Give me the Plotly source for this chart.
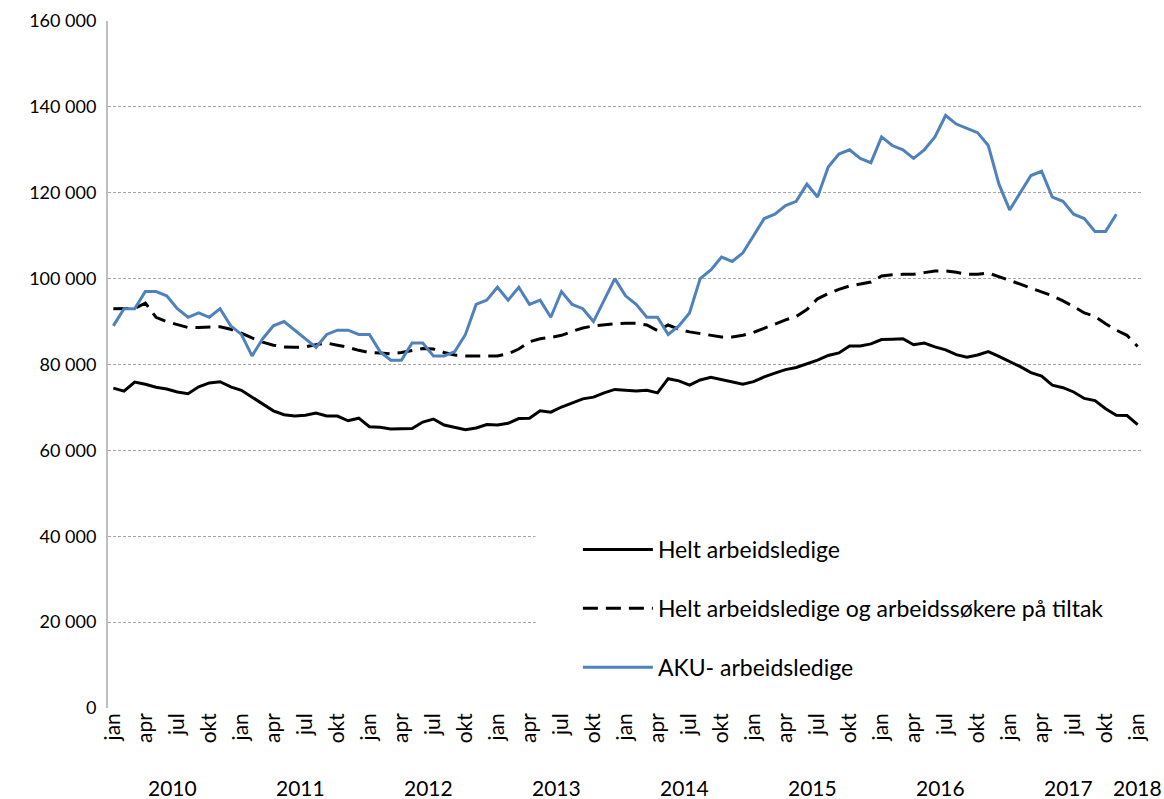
import plotly.graph_objects as go

month_names = ["jan", "feb", "mar", "apr", "mai", "jun", "jul", "aug", "sep", "okt", "nov", "des"]
years = [2010, 2011, 2012, 2013, 2014, 2015, 2016, 2017, 2018]
months = [f"{m} {y}" for y in years for m in month_names][:97]  # jan 2010 .. jan 2018

helt = [
    74500, 73800, 75900, 75400, 74700, 74300, 73600, 73200, 74800, 75700, 76000, 74800,
    74000, 72400, 70600, 69200, 68300, 68000, 68200, 68700, 68000, 68000, 66900, 67500,
    65500, 65400, 65000, 65000, 65100, 66600, 67300, 65900, 65400, 64800, 65200, 66000,
    65900, 66300, 67400, 67500, 69200, 68900, 70100, 71000, 72000, 72400, 73400, 74200,
    74000, 73800, 74000, 73400, 76700, 76200, 75200, 76400, 77000, 76500, 76000, 75400,
    76000, 77100, 78000, 78800, 79300, 80200, 81000, 82100, 82700, 84300, 84300, 84800,
    85800, 85900, 86000, 84600, 85000, 84100, 83400, 82300, 81700, 82200, 83000, 81900,
    80700, 79500, 78100, 77300, 75200, 74600, 73600, 72100, 71600, 69700, 68200, 68100,
    66000,
]

tiltak = [
    93000, 93000, 93100, 94300, 91000, 90000, 89300, 88600, 88600, 88700, 88800, 88200,
    87300, 86200, 85200, 84500, 84100, 84000, 84100, 84600, 85000, 84500, 84000, 83300,
    82800, 82700, 82500, 82800, 83300, 83700, 83600, 82800, 82200, 82000, 82000, 82000,
    82000, 82500, 83600, 85300, 86000, 86300, 86800, 87700, 88500, 89000, 89300, 89500,
    89600, 89600, 89200, 87900, 89200, 88200, 87600, 87200, 86700, 86400, 86400, 86800,
    87500, 88400, 89400, 90400, 91200, 92800, 95300, 96500, 97500, 98300, 98800, 99200,
    100600, 100900, 101000, 101000, 101400, 101800, 101800, 101500, 101000, 101000, 101300, 100500,
    99600, 98700, 97800, 97000, 96000, 94800, 93500, 92000, 91200, 89500, 88000, 86800,
    84200,
]

aku = [
    89000, 93000, 93000, 97000, 97000, 96000, 93000, 91000, 92000, 91000, 93000, 89000,
    87000, 82000, 86000, 89000, 90000, 88000, 86000, 84000, 87000, 88000, 88000, 87000,
    87000, 83000, 81000, 81000, 85000, 85000, 82000, 82000, 83000, 87000, 94000, 95000,
    98000, 95000, 98000, 94000, 95000, 91000, 97000, 94000, 93000, 90000, 95000, 100000,
    96000, 94000, 91000, 91000, 87000, 89000, 92000, 100000, 102000, 105000, 104000, 106000,
    110000, 114000, 115000, 117000, 118000, 122000, 119000, 126000, 129000, 130000, 128000, 127000,
    133000, 131000, 130000, 128000, 130000, 133000, 138000, 136000, 135000, 134000, 131000, 122000,
    116000, 120000, 124000, 125000, 119000, 118000, 115000, 114000, 111000, 111000, 115000,
]

tick_months = ["jan", "apr", "jul", "okt"]
year_labels = ["2010", "2011", "2012", "2013", "2014", "2015", "2016", "2017", "2018"]

FONT = "Lato"

fig = go.Figure()
fig.add_trace(go.Scatter(
    x=months, y=helt, mode="lines", name="Helt arbeidsledige",
    line=dict(color="black", width=3), legendgroup="a",
))
fig.add_trace(go.Scatter(
    x=months, y=tiltak, mode="lines", name="Helt arbeidsledige og arbeidssøkere på tiltak",
    line=dict(color="black", width=3, dash="15px,8px"), legendgroup="b",
))
fig.add_trace(go.Scatter(
    x=months[:len(aku)], y=aku, mode="lines", name="AKU- arbeidsledige",
    line=dict(color="#4F81BD", width=3), legendgroup="c",
))

tickvals = [m for m in months if m.split()[0] in tick_months]
ticktext = [m.split()[0] for m in tickvals]

fig.update_xaxes(
    type="category", categoryorder="array", categoryarray=months,
    range=[-0.5, len(months) - 0.5],
    tickmode="array", tickvals=tickvals, ticktext=ticktext,
    tickangle=-90, tickfont=dict(family=FONT, size=21, color="black"),
    showgrid=False, showline=False, zeroline=False, ticks="",
    automargin=False,
)
fig.update_yaxes(
    range=[0, 160000], dtick=20000, tickformat=",d",
    tickfont=dict(family=FONT, size=18, color="black"),
    showgrid=True, gridcolor="#A6A6A6", gridwidth=1, griddash="3px,2px",
    showline=True, linecolor="#BFBFBF", linewidth=2,
    zeroline=False, ticks="", ticklabelstandoff=6, automargin=False,
)

# Year labels centred under each year's months
for yl in year_labels:
    ym = [i for i, m in enumerate(months) if m.endswith(yl)]
    xc = (ym[0] + ym[-1]) / 2
    fig.add_annotation(
        x=xc, y=-0.115, xref="x", yref="paper", text=yl, showarrow=False,
        font=dict(family=FONT, size=21, color="black"), xanchor="center", yanchor="middle",
    )

# white legend background box (hides gridlines behind the legend)
fig.add_shape(
    type="rect", xref="paper", yref="paper", x0=0.413, x1=1.0, y0=0.02, y1=0.31,
    fillcolor="white", line=dict(width=0), layer="above",
)

fig.update_layout(
    width=1164, height=799,
    margin=dict(l=108, r=21, t=21, b=91, autoexpand=False),
    paper_bgcolor="white", plot_bgcolor="white",
    separators=", ",
    font=dict(family=FONT, size=18, color="black"),
    legend=dict(
        x=0.454, y=0.262, xanchor="left", yanchor="top",
        bgcolor="rgba(0,0,0,0)", font=dict(family=FONT, size=23, color="black"),
        traceorder="grouped", tracegroupgap=26, itemwidth=70,
    ),
    showlegend=True,
)

fig.write_html(
    "out.html",
    config={"displayModeBar": False},
    post_script="document.body.style.margin='0';document.body.style.overflow='hidden';",
)
